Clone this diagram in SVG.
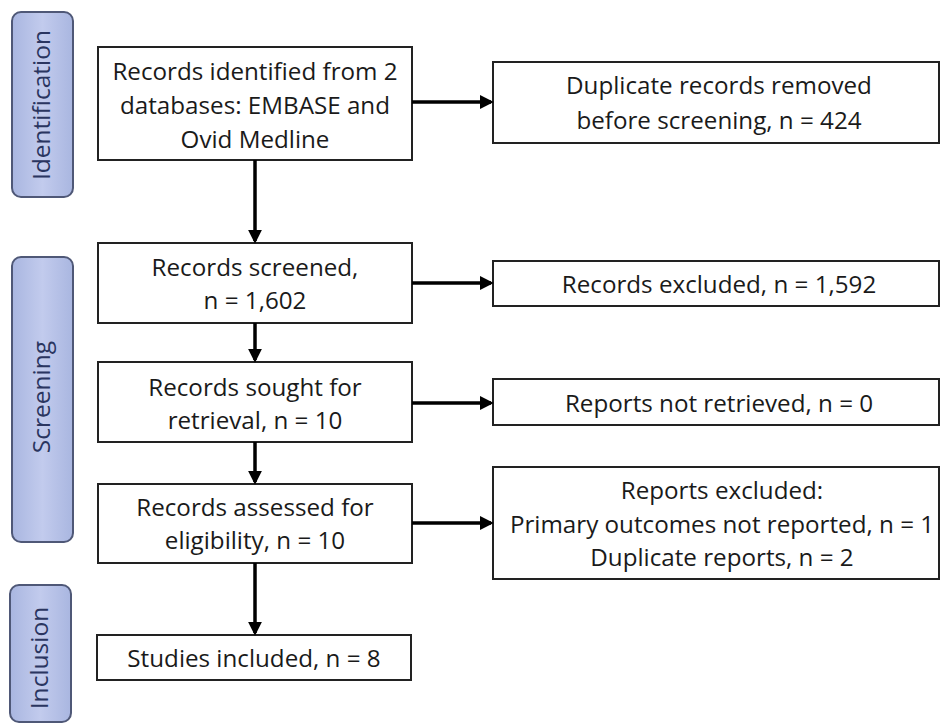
<svg xmlns="http://www.w3.org/2000/svg" width="941" height="725" viewBox="0 0 941 725">
<defs>
<marker id="ah" markerWidth="4" markerHeight="4" refX="3.2" refY="2" orient="auto" markerUnits="strokeWidth">
<path d="M0,0 L4,2 L0,4 Z" fill="#000"/>
</marker>
<linearGradient id="lg" x1="0" y1="0" x2="1" y2="0">
<stop offset="0" stop-color="#a9b6e0"/>
<stop offset="0.5" stop-color="#c2cbed"/>
<stop offset="1" stop-color="#a9b6e0"/>
</linearGradient>
</defs>
<style>
.box{fill:#fff;stroke:#222;stroke-width:2}
.lab{fill:url(#lg);stroke:#4f5877;stroke-width:2}
.t{font-family:"Open Sans","Liberation Sans",sans-serif;font-size:24.2px;fill:#1a1a1a;text-anchor:middle}
.lt{font-family:"Open Sans","Liberation Sans",sans-serif;font-size:24.5px;fill:#2a3560;text-anchor:middle}
.c{stroke:#000;stroke-width:3.5;fill:none;marker-end:url(#ah)}
</style>
<rect width="941" height="725" fill="#fff"/>
<g id="lab-identification"><rect class="lab" x="12" y="12" width="61" height="185" rx="9"/><text class="lt" transform="translate(50,105) rotate(-90)">Identification</text></g>
<g id="lab-screening"><rect class="lab" x="12" y="257" width="61" height="285" rx="9"/><text class="lt" transform="translate(50,397) rotate(-90)">Screening</text></g>
<g id="lab-inclusion"><rect class="lab" x="10" y="585" width="61" height="137" rx="9"/><text class="lt" transform="translate(48,658) rotate(-90)">Inclusion</text></g>

<g id="n1"><rect class="box" x="98" y="47" width="314" height="113"/><text class="t" x="255" y="80">Records identified from 2</text><text class="t" x="255" y="114">databases: EMBASE and</text><text class="t" x="255" y="148">Ovid Medline</text></g>
<g id="n2"><rect class="box" x="98" y="243" width="314" height="80"/><text class="t" x="255" y="276">Records screened,</text><text class="t" x="255" y="309">n = 1,602</text></g>
<g id="n3"><rect class="box" x="98" y="362" width="314" height="80"/><text class="t" x="255" y="396">Records sought for</text><text class="t" x="255" y="429">retrieval, n = 10</text></g>
<g id="n4"><rect class="box" x="98" y="484" width="314" height="79"/><text class="t" x="255" y="516">Records assessed for</text><text class="t" x="255" y="549">eligibility, n = 10</text></g>
<g id="n5"><rect class="box" x="97" y="635" width="314" height="45"/><text class="t" x="254" y="667">Studies included, n = 8</text></g>

<g id="r1"><rect class="box" x="493" y="62" width="446" height="81"/><text class="t" x="719" y="94">Duplicate records removed</text><text class="t" x="719" y="129">before screening, n = 424</text></g>
<g id="r2"><rect class="box" x="493" y="261" width="446" height="45"/><text class="t" x="719" y="293">Records excluded, n = 1,592</text></g>
<g id="r3"><rect class="box" x="493" y="379" width="446" height="46"/><text class="t" x="719" y="412">Reports not retrieved, n = 0</text></g>
<g id="r4"><rect class="box" x="493" y="467" width="446" height="112"/><text class="t" x="722" y="499">Reports excluded:</text><text class="t" x="722" y="533">Primary outcomes not reported, n = 1</text><text class="t" x="722" y="566">Duplicate reports, n = 2</text></g>

<g id="connectors">
<line class="c" x1="255" y1="160" x2="255" y2="241"/>
<line class="c" x1="255" y1="323" x2="255" y2="360"/>
<line class="c" x1="255" y1="442" x2="255" y2="482"/>
<line class="c" x1="255" y1="563" x2="255" y2="633"/>
<line class="c" x1="412" y1="102" x2="491" y2="102"/>
<line class="c" x1="412" y1="283" x2="491" y2="283"/>
<line class="c" x1="412" y1="403" x2="491" y2="403"/>
<line class="c" x1="412" y1="523" x2="491" y2="523"/>
</g>
</svg>
